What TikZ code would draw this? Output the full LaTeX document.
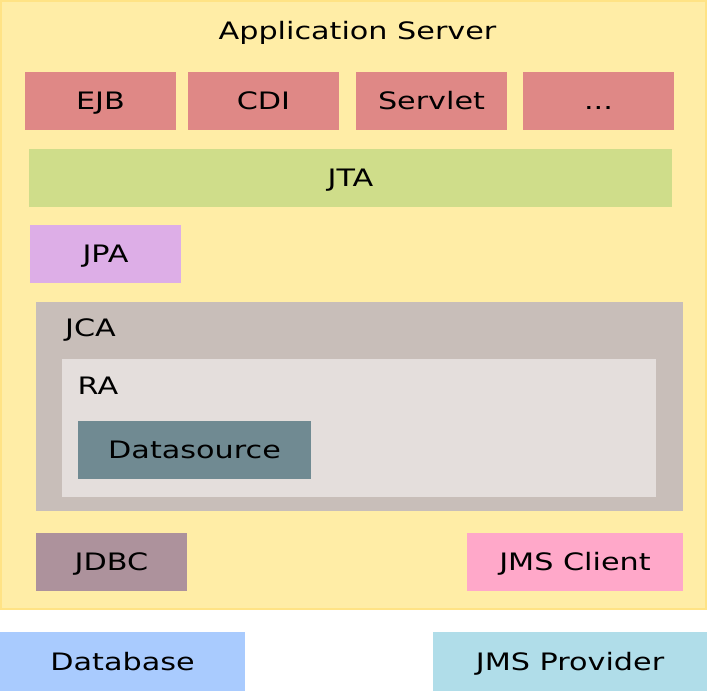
\documentclass[tikz,border=0pt]{standalone}
\usepackage{fontspec}
\setmainfont[FakeStretch=1.26]{DejaVu Sans}
\definecolor{appfill}{HTML}{FFEDA6}
\definecolor{appline}{HTML}{FFE385}
\definecolor{redbox}{HTML}{DF8886}
\definecolor{jtacol}{HTML}{CFDD8A}
\definecolor{jpacol}{HTML}{DDAEE7}
\definecolor{jcacol}{HTML}{C8BEB9}
\definecolor{racol}{HTML}{E4DEDC}
\definecolor{dscol}{HTML}{708A92}
\definecolor{jdbccol}{HTML}{AD929C}
\definecolor{jmsccol}{HTML}{FFA8C9}
\definecolor{dbcol}{HTML}{A9CBFE}
\definecolor{jmspcol}{HTML}{B0DDE9}
\begin{document}
\begin{tikzpicture}[x=1pt,y=-1pt,
  lbl/.style={font=\fontsize{24}{28}\selectfont,inner sep=0pt,anchor=base},
  lblw/.style={lbl,anchor=base west}]
\useasboundingbox (0,0) rectangle (707,691);
% application server
\path[fill=appfill,draw=appline,line width=2pt] (1,1) rectangle (706,609);
\node[lbl] (title) at (357.5,39) {Application Server};
% top row
\fill[redbox] (25,72) rectangle (176,130);
\node[lbl] (ejb) at (100.5,109.5) {EJB};
\fill[redbox] (188,72) rectangle (339,130);
\node[lbl] (cdi) at (263.5,109.5) {CDI};
\fill[redbox] (356,72) rectangle (507,130);
\node[lbl] (servlet) at (431.5,109.5) {Servlet};
\fill[redbox] (523,72) rectangle (674,130);
\node[lbl] (more) at (598.5,109.5) {...};
% JTA
\fill[jtacol] (29,149) rectangle (672,207);
\node[lbl] (jta) at (350.5,186.5) {JTA};
% JPA
\fill[jpacol] (30,225) rectangle (181,283);
\node[lbl] (jpa) at (105.5,262.5) {JPA};
% JCA
\fill[jcacol] (36,302) rectangle (683,511);
\node[lblw] (jca) at (65,336.5) {JCA};
\fill[racol] (62,359) rectangle (656,497);
\node[lblw] (ra) at (77.5,394) {RA};
\fill[dscol] (78,421) rectangle (311,479);
\node[lbl] (ds) at (194.5,458.5) {Datasource};
% bottom row
\fill[jdbccol] (36,533) rectangle (187,591);
\node[lbl] (jdbc) at (111.5,570.5) {JDBC};
\fill[jmsccol] (467,533) rectangle (683,591);
\node[lbl] (jmsc) at (575,570.5) {JMS Client};
% outside
\fill[dbcol] (0,632) rectangle (245,691);
\node[lbl] (db) at (122.5,670) {Database};
\fill[jmspcol] (433,632) rectangle (707,691);
\node[lbl] (jmsp) at (570,670) {JMS Provider};
\end{tikzpicture}
\end{document}
